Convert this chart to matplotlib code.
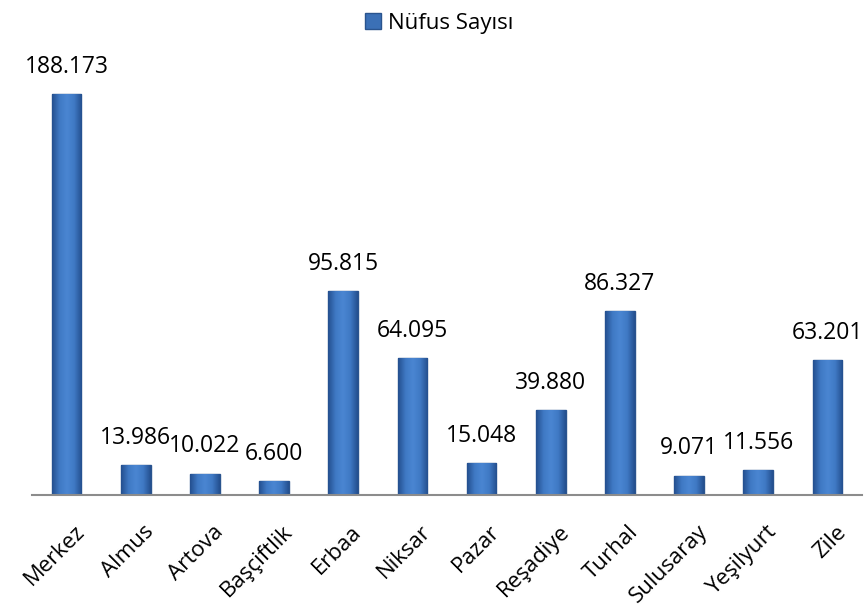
import numpy as np
import matplotlib.pyplot as plt
import matplotlib.transforms as mtransforms
from matplotlib.colors import LinearSegmentedColormap
from matplotlib.patches import Patch

ilceler = ['Merkez', 'Almus', 'Artova', 'Başçiftlik', 'Erbaa', 'Niksar', 'Pazar',
           'Reşadiye', 'Turhal', 'Sulusaray', 'Yeşilyurt', 'Zile']
nufus = [188173, 13986, 10022, 6600, 95815, 64095, 15048, 39880, 86327, 9071, 11556, 63201]

plt.rcParams['font.family'] = ['Open Sans', 'DejaVu Sans']

fig = plt.figure(figsize=(8.64, 6.13), dpi=100)
ax = fig.add_axes([32 / 864, 1 - 495 / 613, 830 / 864, (495 - 69) / 613])

x = range(len(ilceler))
bars = ax.bar(x, nufus, width=0.43, color='#3b70b6', edgecolor='#2a548e', linewidth=1.0, zorder=2)

# yatay gradyan (kenarlar koyu, orta açık)
cmap = LinearSegmentedColormap.from_list('bev', ['#24508f', '#3f79c4', '#4a86d2', '#3f79c4', '#24508f'])
grad = np.linspace(0, 1, 64).reshape(1, -1)
for b in bars:
    im = ax.imshow(grad, extent=(b.get_x(), b.get_x() + b.get_width(), 0, b.get_height()),
                   aspect='auto', cmap=cmap, zorder=2.5)
    im.set_clip_path(b)

for b, v in zip(bars, nufus):
    ax.annotate(f'{v:,}'.replace(',', '.'), (b.get_x() + b.get_width() / 2, v),
                xytext=(0, 11), textcoords='offset points',
                ha='center', va='bottom', fontsize=16.5)

ax.set_xlim(-0.5, len(ilceler) - 0.5)
ax.set_ylim(0, 200000)
ax.set_xticks(list(x))
ax.set_xticklabels(ilceler, rotation=45, ha='right', rotation_mode='anchor', fontsize=16)
ax.tick_params(axis='x', length=0, pad=19)
offset = mtransforms.ScaledTranslation(8 / 100, 0, fig.dpi_scale_trans)
for lab in ax.get_xticklabels():
    lab.set_transform(lab.get_transform() + offset)
ax.set_yticks([])
for s in ['top', 'left', 'right']:
    ax.spines[s].set_visible(False)
ax.spines['bottom'].set_color('#8c8c8c')
ax.spines['bottom'].set_linewidth(1.5)

fig.legend(handles=[Patch(facecolor='#3b70b6', edgecolor='#2a548e')], labels=['Nüfus Sayısı'],
           loc='upper center', bbox_to_anchor=(0.508, 1.012), frameon=False, fontsize=16,
           handlelength=0.75, handleheight=0.75, handletextpad=0.3)

fig.savefig('out.png', dpi=100)
